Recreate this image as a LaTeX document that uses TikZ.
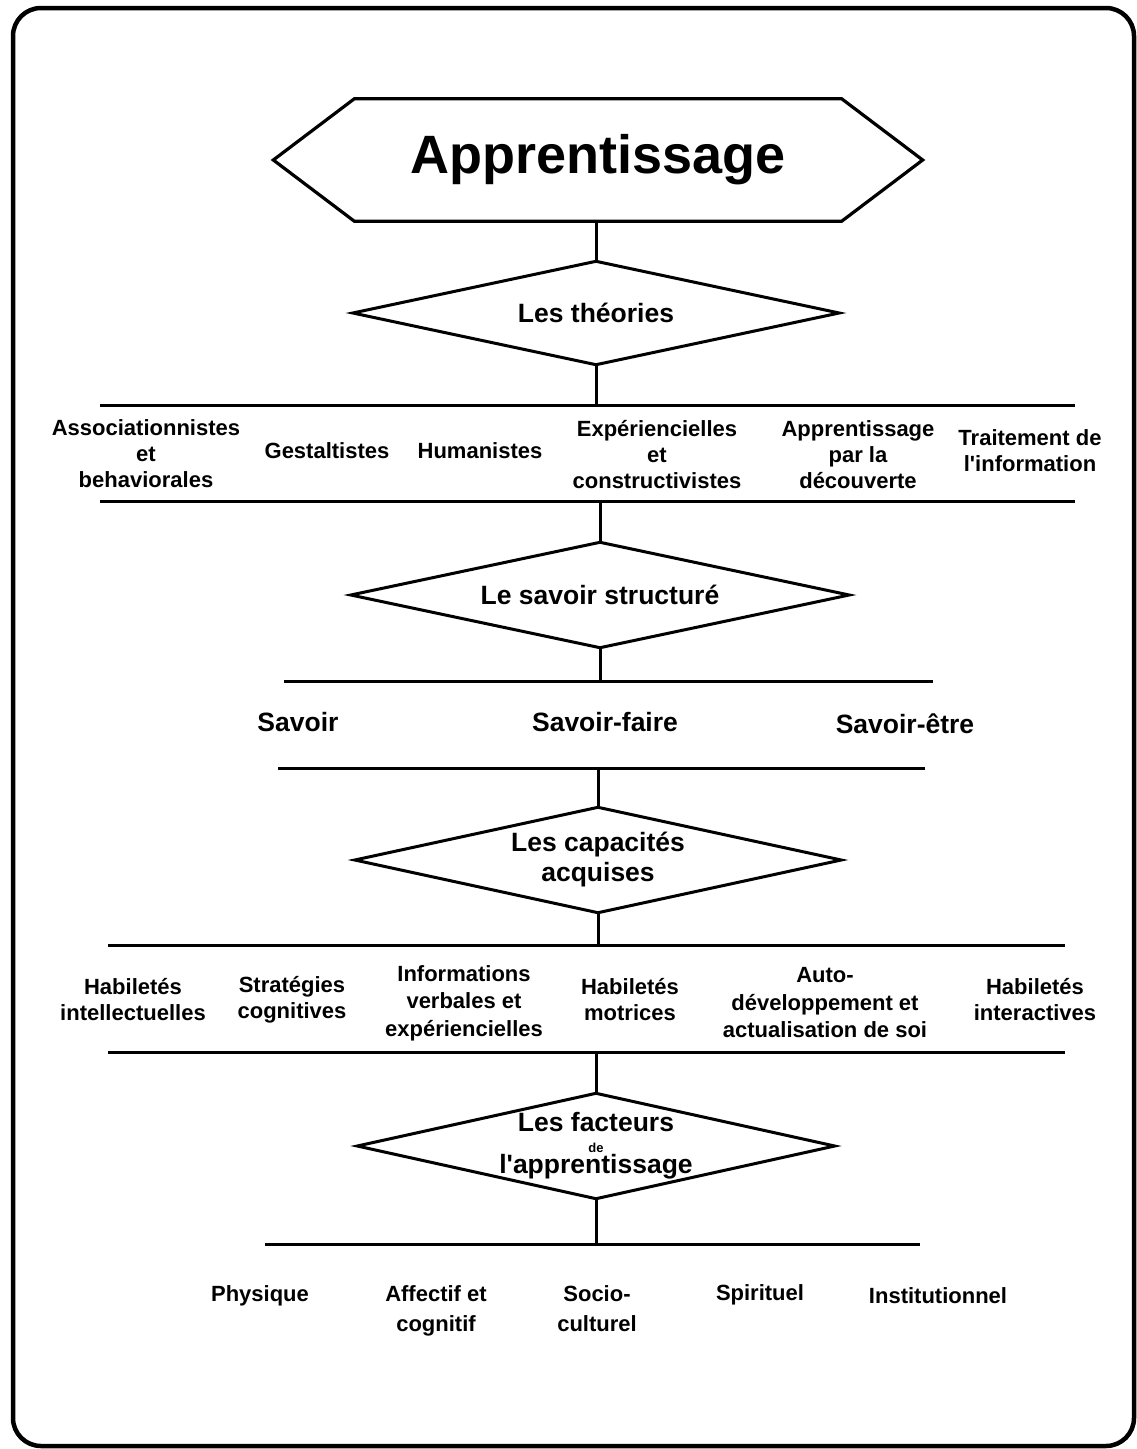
\documentclass[tikz,border=0pt]{standalone}
\usepackage{fontspec}
\setmainfont{Liberation Sans}[Ligatures=TeXOff]
\tikzset{
  ln/.style={line width=3pt},
  dia/.style={inner sep=0pt, align=center,
    font=\bfseries\fontsize{26.5}{30}\selectfont},
  diaborder/.style={line width=3pt, line join=miter},
  lbl/.style={align=center, inner sep=0pt, font=\bfseries\fontsize{22}{26}\selectfont},
  lblm/.style={align=center, inner sep=0pt, font=\bfseries\fontsize{26.5}{30}\selectfont},
}
\newcommand{\diaframe}[1]{\draw[diaborder] (#1.north) -- (#1.east) -- (#1.south) -- (#1.west) -- cycle;}
\begin{document}
\begin{tikzpicture}[x=1pt,y=-1pt]
\useasboundingbox (0,0) rectangle (1137,1449);
\draw[line width=4.5pt, rounded corners=28pt] (13,8) rectangle (1134,1446);

% title hexagon
\node[inner sep=0pt, minimum width=487pt, minimum height=122pt,
  font=\bfseries\fontsize{54}{60}\selectfont] (hex) at (598,160) {Apprentissage};
\draw[line width=3.2pt, line join=miter]
  (hex.north west) -- (hex.north east) -- ([xshift=81pt]hex.east)
  -- (hex.south east) -- (hex.south west) -- ([xshift=-81pt]hex.west) -- cycle;

% diamonds
\node[dia, minimum width=486pt, minimum height=103pt] (d1) at (596,313) {Les théories};
\node[dia, minimum width=498pt, minimum height=105pt] (d2) at (600,595) {Le savoir structuré};
\node[dia, minimum width=486pt, minimum height=105pt] (d3) at (598,860) {Les capacités\\acquises};
\node[dia, minimum width=477pt, minimum height=105pt,
  font=\bfseries\fontsize{26.5}{21}\selectfont] (d4) at (596,1146)
  {Les facteurs\\{\fontsize{13}{21}\selectfont de}\\l'apprentissage};
\diaframe{d1}
\diaframe{d2}
\diaframe{d3}
\diaframe{d4}

% bars
\coordinate (aL) at (100,405);  \coordinate (aR) at (1075,405);
\coordinate (bL) at (100,501);  \coordinate (bR) at (1075,501);
\coordinate (cL) at (284,681);  \coordinate (cR) at (933,681);
\coordinate (dL) at (278,768);  \coordinate (dR) at (925,768);
\coordinate (eL) at (108,945);  \coordinate (eR) at (1065,945);
\coordinate (fL) at (108,1052); \coordinate (fR) at (1065,1052);
\coordinate (gL) at (265,1244); \coordinate (gR) at (920,1244);
\foreach \b in {a,b,c,d,e,f,g} { \draw[ln] (\b L) -- (\b R); }

% vertical connectors
\draw[ln] (d1.north) -- (d1.north |- hex.south);
\draw[ln] (d1.south) -- (d1.south |- aL);
\draw[ln] (d2.north) -- (d2.north |- bL);
\draw[ln] (d2.south) -- (d2.south |- cL);
\draw[ln] (d3.north) -- (d3.north |- dL);
\draw[ln] (d3.south) -- (d3.south |- eL);
\draw[ln] (d4.north) -- (d4.north |- fL);
\draw[ln] (d4.south) -- (d4.south |- gL);

% theories
\node[lbl] (t1) at (146,454) {Associationnistes\\et\\behaviorales};
\node[lbl] (t2) at (327,451) {Gestaltistes};
\node[lbl] (t3) at (480,451) {Humanistes};
\node[lbl] (t4) at (657,455) {Expériencielles\\et\\constructivistes};
\node[lbl] (t5) at (858,455) {Apprentissage\\par la\\découverte};
\node[lbl] (t6) at (1030,451) {Traitement de\\l'information};

% savoir
\node[lblm] (s1) at (298,722) {Savoir};
\node[lblm] (s2) at (605,722) {Savoir-faire};
\node[lblm] (s3) at (905,724) {Savoir-être};

% capacites
\node[lbl] (c1) at (133,1000) {Habiletés\\intellectuelles};
\node[lbl] (c2) at (292,1000) {Stratégies\\cognitives};
\node[lbl, font=\bfseries\fontsize{22}{27.5}\selectfont] (c3) at (464,1003) {Informations\\verbales et\\expériencielles};
\node[lbl] (c4) at (630,1000) {Habiletés\\motrices};
\node[lbl, font=\bfseries\fontsize{22}{27.5}\selectfont] (c5) at (825,1003) {Auto-\\développement et\\actualisation de soi};
\node[lbl] (c6) at (1035,1000) {Habiletés\\interactives};

% facteurs
\node[lbl] (f1) at (260,1296) {Physique};
\node[lbl, font=\bfseries\fontsize{22}{30}\selectfont] (f2) at (436,1311) {Affectif et\\cognitif};
\node[lbl, font=\bfseries\fontsize{22}{30}\selectfont] (f3) at (597,1309) {Socio-\\culturel};
\node[lbl] (f4) at (760,1295) {Spirituel};
\node[lbl] (f5) at (938,1296) {Institutionnel};
\end{tikzpicture}
\end{document}
